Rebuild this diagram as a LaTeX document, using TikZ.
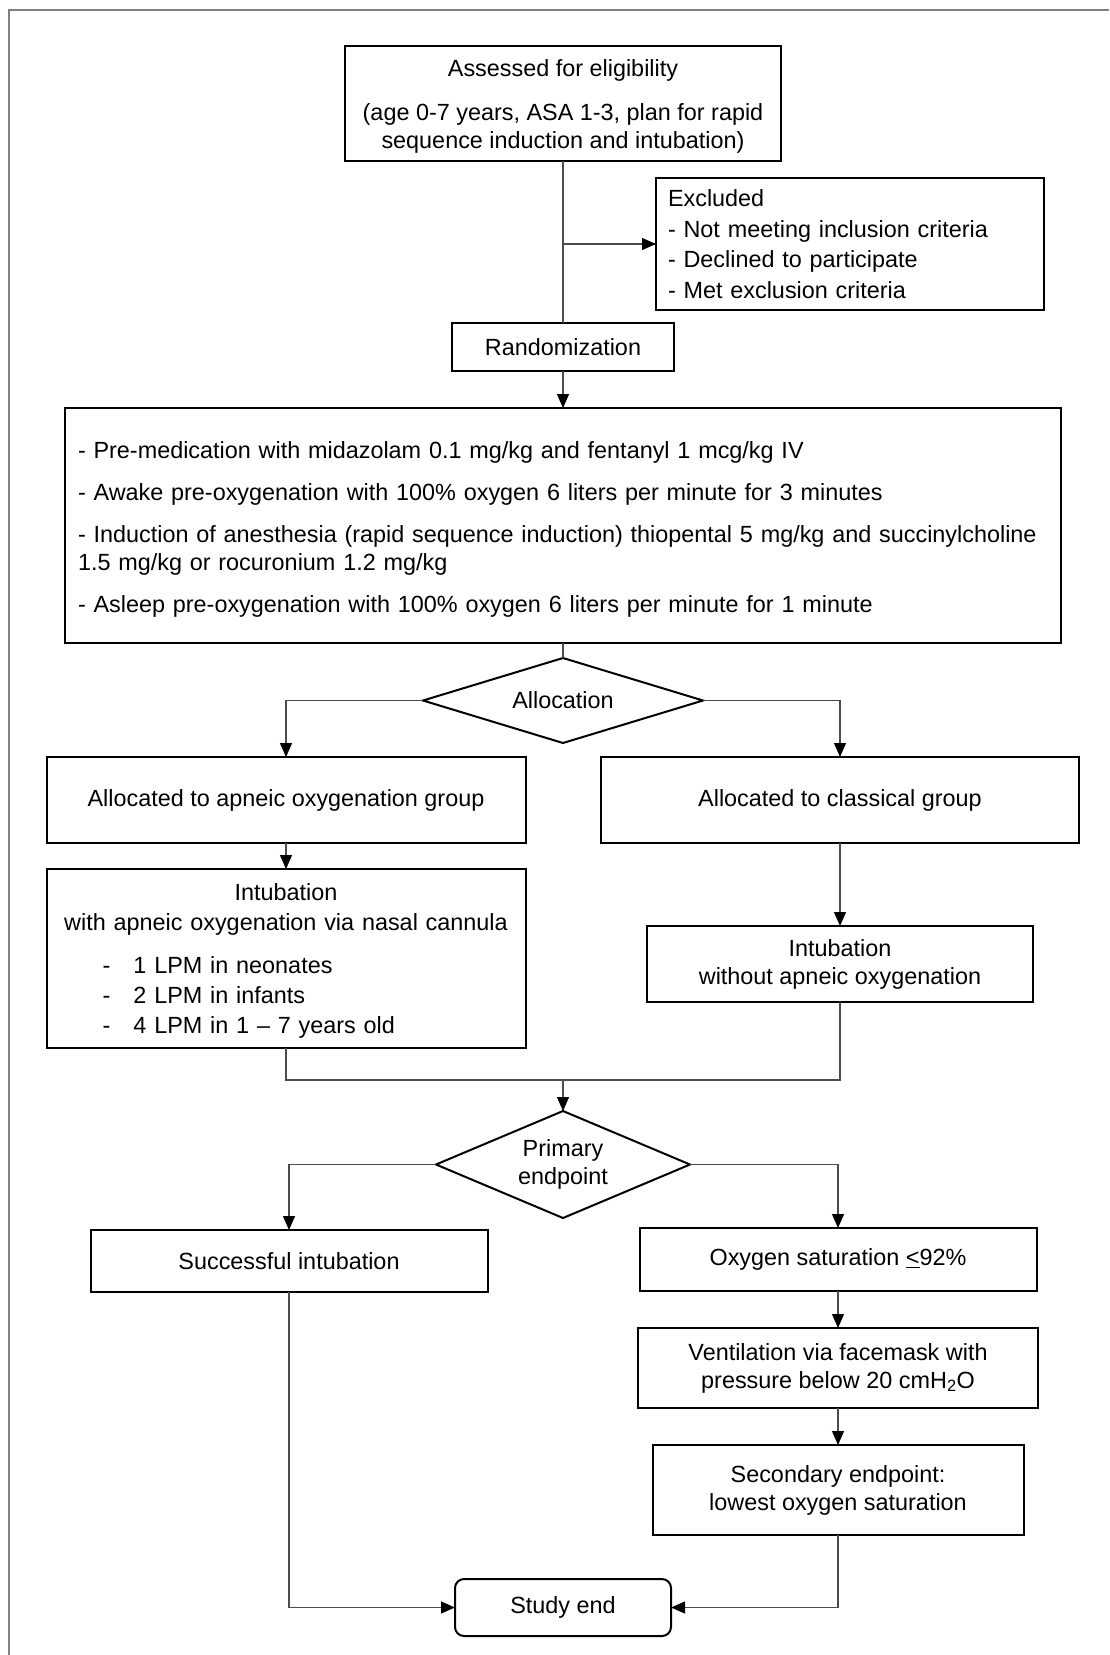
\documentclass[tikz,border=0pt]{standalone}
\usepackage{fontspec}
\setmainfont{Liberation Sans}
\usetikzlibrary{shapes,arrows,arrows.meta,fit,positioning}
\definecolor{framegray}{gray}{.5}
\definecolor{linegray}{gray}{.3}
\def\Lpm#1{\makebox[455pt][l]{\hspace*{44pt}\makebox[31pt][l]{-}#1}}

\begin{document}
\begin{tikzpicture}[x=1pt,y=1pt,% 1 unit = 1 px of the page
				every node/.style={
					font=\fontsize{23.4}{28}\selectfont,
					inner sep=0pt,
					outer sep=0pt	% anchors sit on the border itself
				},
				every edge/.style={draw=linegray,line width=1.2pt},
				box/.style={rectangle,draw=black,line width=2pt,align=center},
				dia/.style={diamond,draw=black,line width=2pt,align=center},
				wire/.style={draw=linegray,line width=1.2pt},
				>={Triangle[length=14pt,width=12pt,color=black]}
			]
			\useasboundingbox (0,0) rectangle (1109,-1655);
			\draw[framegray,line width=2pt] (8.5,-1655) -- (8.5,-10) -- (1109,-10);

			\node[box,minimum width=436pt,minimum height=115pt](R1) at (563,-103.5){\rule{0pt}{23pt}Assessed for eligibility\\[16pt](age 0-7 years, ASA 1-3, plan for rapid\\sequence induction and intubation)};
			\node[box,align=left,text width=364pt,minimum width=388pt,minimum height=132pt,font=\fontsize{23.4}{30.5}\selectfont](R2) at (850,-244){Excluded\\- Not meeting inclusion criteria\\- Declined to participate\\- Met exclusion criteria};
			\node[box,minimum width=222pt,minimum height=48pt](R3)[below=162pt of R1]{Randomization};
			\node[box,align=left,text width=970pt,minimum width=996pt,minimum height=235pt](R4)[below=37pt of R3]{%
				\rule{0pt}{25pt}- Pre-medication with midazolam 0.1 mg/kg and fentanyl 1 mcg/kg IV\\[14pt]
				- Awake pre-oxygenation with 100\% oxygen 6 liters per minute for 3 minutes\\[14pt]
				- Induction of anesthesia (rapid sequence induction) thiopental 5 mg/kg and succinylcholine\\
				1.5 mg/kg or rocuronium 1.2 mg/kg\\[14pt]
				- Asleep pre-oxygenation with 100\% oxygen 6 liters per minute for 1 minute};
			\node[dia,minimum width=280pt,minimum height=85pt,shape aspect=3.3](D1)[below=15pt of R4]{Allocation};

			% two groups
			\node[box,minimum width=479pt,minimum height=86pt](R5)[below=14pt of D1,xshift=-277pt]{Allocated to apneic oxygenation group};
			\node[box,minimum width=478pt,minimum height=86pt](R6)[below=14pt of D1,xshift=277pt]{Allocated to classical group};
			\node[box,text width=455pt,minimum width=479pt,minimum height=179pt,font=\fontsize{23.4}{30}\selectfont](R7)[below=26pt of R5]{\rule{0pt}{21pt}Intubation\\with apneic oxygenation via nasal cannula\\[13pt]
				\Lpm{1 LPM in neonates}\\
				\Lpm{2 LPM in infants}\\
				\Lpm{4 LPM in 1 -- 7 years old}};
			\node[box,minimum width=386pt,minimum height=76pt](R8)[below=83pt of R6]{Intubation\\without apneic oxygenation};

			\coordinate (J) at (563,-1080);
			\node[dia,minimum width=254pt,minimum height=107pt,shape aspect=2.4](D2)[below=31pt of J]{Primary\\endpoint};

			% outcomes
			\node[box,minimum width=397pt,minimum height=62pt](R9)[below=12pt of D2,xshift=-274pt]{Successful intubation};
			\node[box,minimum width=397pt,minimum height=63pt](R10)[below=10pt of D2,xshift=275pt]{Oxygen saturation \underline{<}92\%};
			\node[box,minimum width=400pt,minimum height=80pt](R11)[below=37pt of R10]{Ventilation via facemask with\\pressure below 20 cmH\textsubscript{2}O};
			\node[box,minimum width=371pt,minimum height=90pt](R12)[below=37pt of R11]{Secondary endpoint:\\lowest oxygen saturation};
			\node[box,rounded corners=9pt,minimum width=216pt,minimum height=57pt](R13)[below=44pt of R12,xshift=-275pt]{Study end};

			\coordinate (B) at (R1.south |- R2.west);
			\draw[wire] (R1) -- (R3);
			\draw[wire,->] (B) -- (R2);
			\draw[wire] (R4) -- (D1);
			\draw[wire,->] (D1.west) -| (R5);
			\draw[wire,->] (D1.east) -| (R6);
			\draw[wire] (R7) |- (J);
			\draw[wire] (R8) |- (J);
			\draw[wire,->] (D2.west) -| (R9);
			\draw[wire,->] (D2.east) -| (R10);
			\draw[wire,->] (R9) |- (R13);
			\draw[wire,->] (R12) |- (R13);
			\path[->]
			(R3)edge []	node [] {} (R4)
			(R5)edge []	node [] {} (R7)
			(R6)edge []	node [] {} (R8)
			(J)edge []	node [] {} (D2)
			(R10)edge []	node [] {} (R11)
			(R11)edge []	node [] {} (R12)
			;
		\end{tikzpicture}
\end{document}
